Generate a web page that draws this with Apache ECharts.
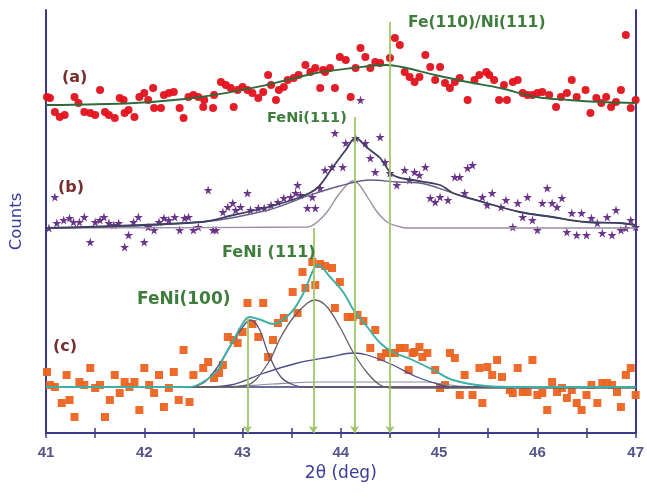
<!DOCTYPE html>
<html>
<head>
<meta charset="utf-8">
<script src="https://cdn.jsdelivr.net/npm/echarts@6/dist/echarts.min.js"></script>
<style>
  html, body { margin: 0; padding: 0; background: #ffffff; }
  #chart { width: 647px; height: 501px; }
</style>
</head>
<body>
<div id="chart"></div>
<script>
// X-ray diffraction scans (2θ in degrees, counts offset per sample)
const xTicks = [41, 42, 43, 44, 45, 46, 47];

// (a) measured scan and fit
const scanA = [
  [41.01,336],[41.04,335],[41.09,321],[41.14,316],[41.19,318],[41.29,336],[41.33,330],[41.39,321],
  [41.45,320],[41.50,318],[41.55,343],[41.60,321],[41.64,318],[41.70,315],[41.75,335],[41.79,333],
  [41.80,320],[41.84,323],[41.90,316],[41.95,336],[42.00,340],[42.04,333],[42.09,345],[42.10,325],
  [42.17,325],[42.20,338],[42.25,340],[42.30,341],[42.36,325],[42.40,315],[42.45,336],[42.50,338],
  [42.55,336],[42.60,326],[42.61,333],[42.70,325],[42.71,338],[42.78,351],[42.83,348],[42.88,345],
  [42.91,326],[42.95,343],[43.00,346],[43.05,343],[43.10,340],[43.16,335],[43.21,341],[43.26,358],
  [43.29,348],[43.34,333],[43.37,343],[43.42,346],[43.46,353],[43.52,355],[43.57,358],[43.64,368],
  [43.69,361],[43.74,365],[43.79,345],[43.82,363],[43.84,361],[43.89,365],[43.94,345],[43.99,376],
  [44.05,373],[44.10,336],[44.15,365],[44.20,385],[44.25,376],[44.30,365],[44.35,371],[44.40,370],
  [44.50,375],[44.55,395],[44.60,388],[44.65,361],[44.70,356],[44.75,351],[44.80,356],[44.86,378],
  [44.91,366],[44.96,353],[45.01,366],[45.06,350],[45.11,345],[45.16,351],[45.21,355],[45.29,333],
  [45.36,353],[45.41,358],[45.48,361],[45.51,358],[45.56,353],[45.61,333],[45.66,348],[45.69,333],
  [45.75,351],[45.80,353],[45.85,340],[45.90,338],[45.95,338],[46.00,340],[46.05,341],[46.12,338],
  [46.19,326],[46.24,336],[46.30,340],[46.35,353],[46.40,336],[46.49,343],[46.54,320],[46.60,335],
  [46.65,330],[46.70,336],[46.75,326],[46.80,331],[46.85,343],[46.90,398],[46.95,325],[47.00,333]
];
const fitA = [
  [41.00,328],[41.90,330],[42.57,336],[43.24,348],[43.75,360],[44.12,365],[44.46,368],[44.62,366],
  [44.96,358],[45.29,351],[45.62,345],[45.99,336],[46.32,333],[46.65,331],[47.00,330]
];

// (b) measured scan, total fit and its two components
const scanB = [
  [41.03,205],[41.09,236],[41.11,210],[41.18,213],[41.24,215],[41.28,211],[41.34,211],[41.39,216],
  [41.45,191],[41.50,211],[41.55,213],[41.59,216],[41.64,210],[41.69,208],[41.74,210],[41.80,186],
  [41.84,198],[41.89,211],[41.94,216],[42.00,191],[42.04,206],[42.10,203],[42.15,211],[42.20,215],
  [42.25,213],[42.31,216],[42.36,203],[42.41,215],[42.45,216],[42.50,203],[42.55,206],[42.65,243],
  [42.70,203],[42.73,203],[42.80,221],[42.85,226],[42.90,230],[42.93,223],[42.98,226],[43.05,240],
  [43.08,223],[43.16,225],[43.22,225],[43.29,228],[43.36,231],[43.42,235],[43.49,236],[43.54,240],
  [43.56,248],[43.59,238],[43.66,225],[43.71,236],[43.74,225],[43.79,245],[43.84,263],[43.91,266],
  [44.02,266],[43.94,300],[44.05,290],[44.15,295],[44.20,333],[44.25,290],[44.30,275],[44.35,261],
  [44.40,296],[44.45,271],[44.50,260],[44.57,248],[44.65,263],[44.70,253],[44.75,261],[44.80,258],
  [44.86,266],[44.91,235],[44.96,231],[45.01,236],[45.09,233],[45.16,256],[45.21,256],[45.26,240],
  [45.29,265],[45.34,268],[45.44,236],[45.49,228],[45.54,240],[45.63,226],[45.68,233],[45.75,206],
  [45.80,230],[45.85,216],[45.90,236],[45.95,213],[46.00,203],[46.05,230],[46.10,245],[46.15,230],
  [46.20,226],[46.25,235],[46.30,201],[46.35,220],[46.40,198],[46.45,220],[46.50,198],[46.55,215],
  [46.61,210],[46.66,200],[46.71,216],[46.76,198],[46.80,223],[46.85,203],[46.90,205],[46.95,213],
  [47.00,206]
];
const fitB = [
  [41.00,205],[42.58,211],[42.91,218],[43.26,226],[43.59,236],[43.76,245],[43.92,266],[44.05,283],
  [44.15,295],[44.27,285],[44.40,275],[44.53,258],[44.73,253],[45.01,248],[45.14,240],[45.48,230],
  [45.82,221],[46.15,216],[46.49,211],[46.83,210],[47.00,208]
];
const fitBNarrow = [
  [41.00,205],[43.66,206],[43.76,211],[43.86,221],[43.96,236],[44.06,248],[44.12,252],[44.18,249],
  [44.27,236],[44.37,221],[44.47,211],[44.57,207],[44.67,205],[47.00,205]
];
const fitBBroad = [
  [41.00,205],[42.58,211],[43.26,223],[43.69,238],[43.99,247],[44.30,253],[44.57,251],[44.80,250],
  [45.14,240],[45.48,230],[45.82,221],[46.15,216],[46.49,211],[46.83,210],[47.00,208]
];

// (c) measured scan, total fit, components and baseline
const scanC = [
  [41.01,61],[41.04,48],[41.09,46],[41.16,30],[41.21,58],[41.24,33],[41.29,16],[41.34,51],
  [41.39,48],[41.45,65],[41.50,45],[41.55,48],[41.60,16],[41.65,33],[41.70,58],[41.75,40],
  [41.80,51],[41.85,46],[41.90,51],[41.95,23],[42.00,65],[42.05,48],[42.10,40],[42.15,58],
  [42.20,26],[42.25,45],[42.30,61],[42.35,33],[42.40,83],[42.46,31],[42.50,58],[42.60,65],
  [42.65,71],[42.71,55],[42.76,60],[42.80,68],[42.85,96],[42.91,93],[42.95,90],[43.00,101],
  [43.05,130],[43.10,109],[43.16,96],[43.21,130],[43.26,76],[43.31,93],[43.36,110],[43.42,115],
  [43.51,141],[43.56,120],[43.61,161],[43.64,145],[43.71,171],[43.74,148],[43.79,169],[43.84,167],
  [43.91,165],[43.94,125],[43.99,151],[44.07,116],[44.12,116],[44.17,118],[44.23,112],[44.30,85],
  [44.35,103],[44.41,76],[44.46,80],[44.50,80],[44.55,80],[44.60,85],[44.65,85],[44.69,63],
  [44.73,80],[44.75,81],[44.80,86],[44.83,76],[44.88,80],[44.96,63],[45.01,45],[45.06,48],
  [45.11,80],[45.16,75],[45.21,38],[45.26,58],[45.34,38],[45.41,65],[45.44,30],[45.49,66],
  [45.54,58],[45.59,73],[45.64,56],[45.72,43],[45.75,40],[45.80,65],[45.85,41],[45.90,41],
  [45.95,73],[46.00,38],[46.05,40],[46.10,23],[46.15,51],[46.20,41],[46.25,45],[46.30,35],
  [46.35,43],[46.40,30],[46.45,23],[46.50,38],[46.55,48],[46.61,30],[46.66,50],[46.71,50],
  [46.76,48],[46.81,41],[46.85,26],[46.90,58],[46.95,65],[47.00,38]
];
const fitC = [
  [41.00,46],[42.45,46],[42.58,50],[42.75,63],[42.81,76],[42.91,93],[42.98,106],[43.07,116],
  [43.19,113],[43.31,109],[43.49,120],[43.62,140],[43.72,163],[43.77,168],[43.89,156],[44.03,140],
  [44.13,123],[44.27,106],[44.40,90],[44.53,81],[44.73,73],[44.94,63],[45.14,53],[45.48,47],
  [45.82,46],[47.00,46]
];
const fitC100 = [
  [41.00,46],[42.45,46],[42.60,50],[42.70,60],[42.81,76],[42.98,103],[43.08,113],[43.17,104],
  [43.26,80],[43.39,56],[43.52,48],[43.65,46],[47.00,46]
];
const fitC111 = [
  [41.00,46],[42.80,46],[43.05,48],[43.26,70],[43.39,96],[43.52,116],[43.66,130],[43.74,133],
  [43.86,126],[43.99,106],[44.13,80],[44.27,60],[44.40,48],[44.53,45],[47.00,45]
];
const fitCBroad = [
  [41.00,46],[42.60,46],[42.88,48],[43.22,60],[43.56,70],[43.89,76],[44.13,80],[44.27,78],
  [44.53,68],[44.75,57],[44.95,50],[45.14,46],[47.00,46]
];
const fitCWeak = [
  [41.00,46],[42.80,46],[43.30,49],[43.80,51],[44.40,51],[44.85,51],[45.20,47],[45.60,46],[47.00,46]
];
const baselineC = [[41.00,46],[47.00,46]];

// reflection markers: position and how high the guide line reaches
const peakPositions = [43.05, 43.72, 44.14, 44.50];
const peakTops = [115, 205, 316, 411];

// annotations
const peakLabels = ['FeNi(100)', 'FeNi (111)', 'FeNi(111)', 'Fe(110)/Ni(111)'];
const sampleLabels = ['(a)', '(b)', '(c)'];

const FONT = 'Liberation Sans, Arial, sans-serif';
const WIDE = 'DejaVu Sans, Verdana, sans-serif';
const AXIS = '#3b3b8a';
const starPath = 'path://M50,0 L61,35 L98,35 L68,57 L79,91 L50,70 L21,91 L32,57 L2,35 L39,35 Z';

function fitLine(data, color, width, z) {
  return {
    type: 'line', data, smooth: 0.35, showSymbol: false, symbol: 'none', silent: true,
    lineStyle: { color, width }, z: z || 4, animation: false
  };
}
function scatter(data, symbol, size, color) {
  return {
    type: 'scatter', data, symbol, symbolSize: size, silent: true,
    itemStyle: { color, opacity: 0.95 }, z: 3, animation: false
  };
}
function label(text, x, y, size, color) {
  return {
    type: 'text', x, y, z: 10,
    style: { text, fill: color, font: 'bold ' + size + 'px ' + WIDE, verticalAlign: 'middle', align: 'left' }
  };
}

const chart = echarts.init(document.getElementById('chart'), null, { renderer: 'canvas' });

const GREEN = '#3f7d3c';
const BROWN = '#7a2d2d';

chart.setOption({
  backgroundColor: '#ffffff',
  animation: false,
  grid: { left: 44, right: 10, top: 10, bottom: 68, containLabel: false },
  xAxis: [
    {
      type: 'value', min: xTicks[0], max: xTicks[xTicks.length - 1], interval: 1,
      position: 'bottom',
      name: '2\u03b8 (deg)', nameLocation: 'middle', nameGap: 32,
      nameTextStyle: { color: '#3b3b9a', fontSize: 17, fontFamily: WIDE },
      axisLine: { lineStyle: { color: AXIS, width: 2 } },
      axisTick: { length: 5, lineStyle: { color: AXIS, width: 1.5 } },
      minorTick: { show: true, splitNumber: 2, length: 5, lineStyle: { color: AXIS, width: 1.5 } },
      axisLabel: { color: '#55558a', fontSize: 15, fontWeight: 'bold', fontFamily: FONT, margin: 12 },
      splitLine: { show: false }
    },
    {
      type: 'value', min: xTicks[0], max: xTicks[xTicks.length - 1], interval: 1,
      position: 'top',
      axisLine: { lineStyle: { color: AXIS, width: 2 } },
      axisTick: { length: 5, lineStyle: { color: AXIS, width: 1.5 } },
      minorTick: { show: true, splitNumber: 2, length: 5, lineStyle: { color: AXIS, width: 1.5 } },
      axisLabel: { show: false },
      splitLine: { show: false }
    }
  ],
  yAxis: [
    {
      type: 'value', min: 0, max: 423, position: 'left',
      name: 'Counts', nameLocation: 'middle', nameGap: 21, nameRotate: 90,
      nameTextStyle: { color: '#3b3b9a', fontSize: 16.5, fontFamily: WIDE },
      axisLine: { show: true, lineStyle: { color: AXIS, width: 2 } },
      axisTick: { show: false }, axisLabel: { show: false }, splitLine: { show: false }
    },
    {
      type: 'value', min: 0, max: 423, position: 'right',
      axisLine: { show: true, lineStyle: { color: AXIS, width: 2 } },
      axisTick: { show: false }, axisLabel: { show: false }, splitLine: { show: false }
    }
  ],
  series: [
    scatter(scanA, 'circle', 8, '#e3121c'),
    scatter(scanB, starPath, 9, '#632a86'),
    scatter(scanC, 'rect', 8, '#ec6420'),

    fitLine(fitA, '#2f6b3a', 1.8),

    fitLine(fitBNarrow, '#9a8aa2', 1.3),
    fitLine(fitBBroad, '#6a5a8a', 1.3),
    fitLine(fitB, '#3d4060', 1.8),

    fitLine(baselineC, '#3b3b80', 1.3),
    fitLine(fitCWeak, '#8a8a9a', 1.1),
    fitLine(fitCBroad, '#4b4b8b', 1.3),
    fitLine(fitC100, '#5c4f78', 1.3),
    fitLine(fitC111, '#6a6060', 1.3),
    fitLine(fitC, '#3bb0a6', 1.9),

    {
      type: 'line', data: [], silent: true, z: 5,
      markLine: {
        silent: true, animation: false,
        symbol: ['none', 'arrow'], symbolSize: 7,
        label: { show: false },
        lineStyle: { color: '#9cc563', width: 1.7, type: 'solid' },
        data: peakPositions.map((p, i) => [
          { coord: [p, peakTops[i]] },
          { coord: [p, 0] }
        ])
      }
    }
  ],
  graphic: [
    label(peakLabels[0], 137, 300, 17, GREEN),
    label(peakLabels[1], 222, 253, 16, GREEN),
    label(peakLabels[2], 267, 118, 14.5, GREEN),
    label(peakLabels[3], 408, 23, 15.5, GREEN),
    label(sampleLabels[0], 62, 78, 16, BROWN),
    label(sampleLabels[1], 58, 188, 16, BROWN),
    label(sampleLabels[2], 53, 347, 16, BROWN)
  ]
});
</script>
</body>
</html>
